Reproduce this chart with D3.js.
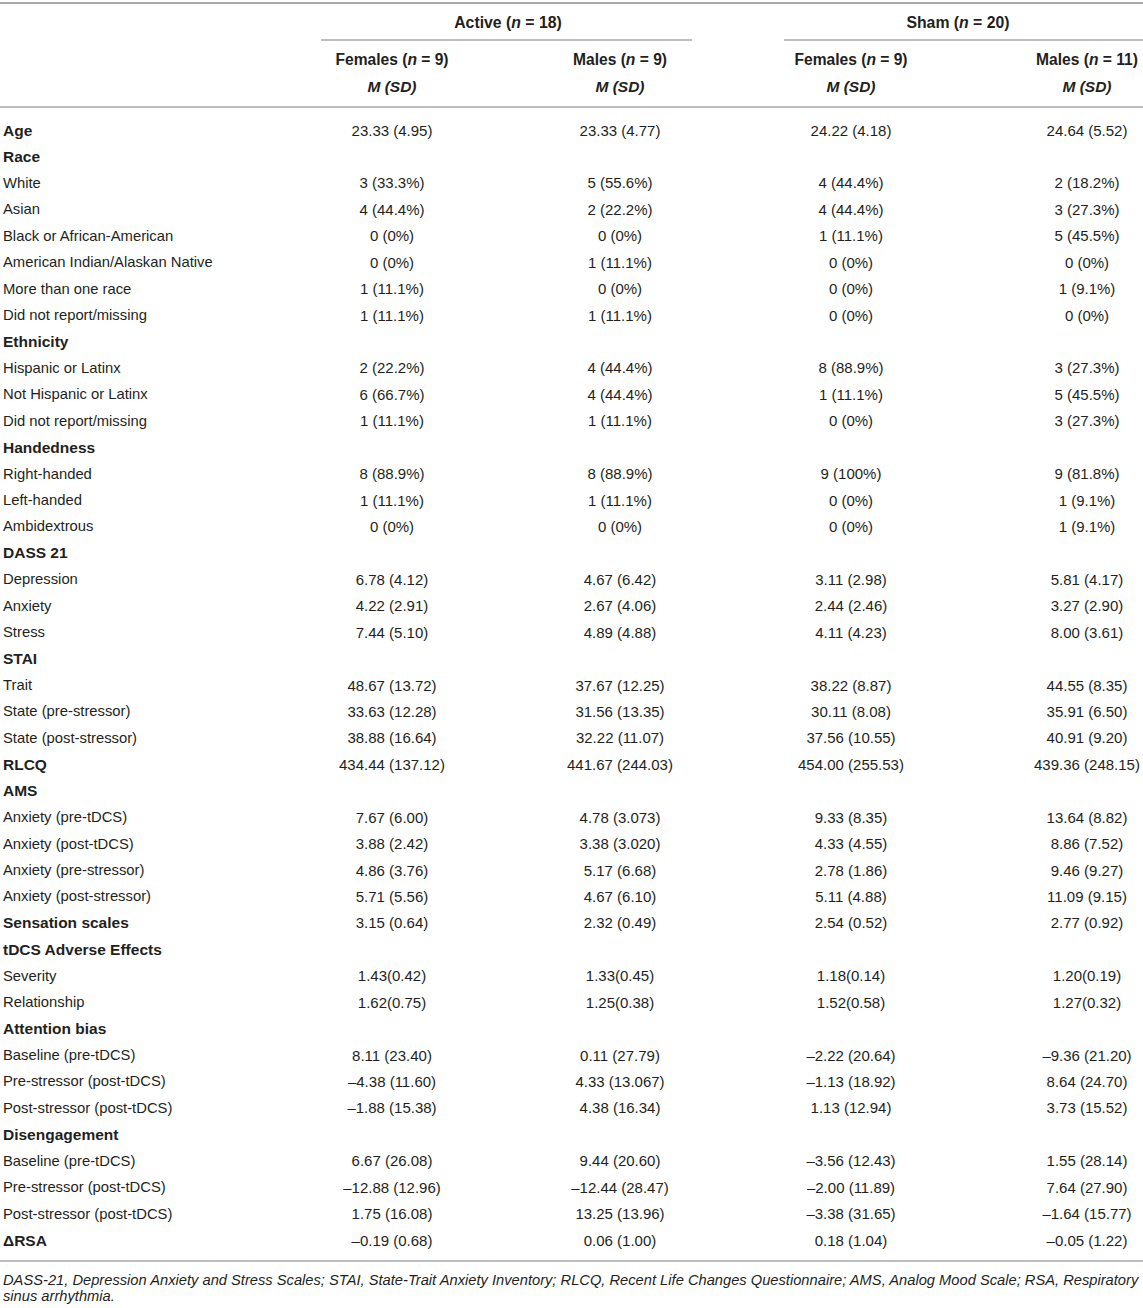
<!DOCTYPE html>
<html>
<head>
<meta charset="utf-8">
<script src="https://cdn.jsdelivr.net/npm/d3@7"></script>
<style>
  html, body { margin: 0; padding: 0; background: #fff; }
  svg { display: block; }
  text { font-family: "Liberation Sans", Arial, Helvetica, sans-serif; fill: #231f20; }
</style>
</head>
<body>
<div id="chart"></div>
<script>
// ---------- DATA ----------
const groupHeaders = ["Active (n = 18)", "Sham (n = 20)"];
const columnHeaders = ["Females (n = 9)", "Males (n = 9)", "Females (n = 9)", "Males (n = 11)"];
const statHeader = "M (SD)";

const rowLabels = [
  "Age", "Race", "White", "Asian", "Black or African-American", "American Indian/Alaskan Native",
  "More than one race", "Did not report/missing", "Ethnicity", "Hispanic or Latinx",
  "Not Hispanic or Latinx", "Did not report/missing", "Handedness", "Right-handed", "Left-handed",
  "Ambidextrous", "DASS 21", "Depression", "Anxiety", "Stress", "STAI", "Trait",
  "State (pre-stressor)", "State (post-stressor)", "RLCQ", "AMS", "Anxiety (pre-tDCS)",
  "Anxiety (post-tDCS)", "Anxiety (pre-stressor)", "Anxiety (post-stressor)", "Sensation scales",
  "tDCS Adverse Effects", "Severity", "Relationship", "Attention bias", "Baseline (pre-tDCS)",
  "Pre-stressor (post-tDCS)", "Post-stressor (post-tDCS)", "Disengagement", "Baseline (pre-tDCS)",
  "Pre-stressor (post-tDCS)", "Post-stressor (post-tDCS)", "\u0394RSA"
];
const boldRows = ["Age", "Race", "Ethnicity", "Handedness", "DASS 21", "STAI", "RLCQ", "AMS",
  "Sensation scales", "tDCS Adverse Effects", "Attention bias", "Disengagement", "\u0394RSA"];

const activeFemales = [
  "23.33 (4.95)", "", "3 (33.3%)", "4 (44.4%)", "0 (0%)", "0 (0%)", "1 (11.1%)", "1 (11.1%)",
  "", "2 (22.2%)", "6 (66.7%)", "1 (11.1%)", "", "8 (88.9%)", "1 (11.1%)", "0 (0%)",
  "", "6.78 (4.12)", "4.22 (2.91)", "7.44 (5.10)", "", "48.67 (13.72)", "33.63 (12.28)", "38.88 (16.64)",
  "434.44 (137.12)", "", "7.67 (6.00)", "3.88 (2.42)", "4.86 (3.76)", "5.71 (5.56)", "3.15 (0.64)",
  "", "1.43(0.42)", "1.62(0.75)", "", "8.11 (23.40)", "\u20134.38 (11.60)", "\u20131.88 (15.38)",
  "", "6.67 (26.08)", "\u201312.88 (12.96)", "1.75 (16.08)", "\u20130.19 (0.68)"
];
const activeMales = [
  "23.33 (4.77)", "", "5 (55.6%)", "2 (22.2%)", "0 (0%)", "1 (11.1%)", "0 (0%)", "1 (11.1%)",
  "", "4 (44.4%)", "4 (44.4%)", "1 (11.1%)", "", "8 (88.9%)", "1 (11.1%)", "0 (0%)",
  "", "4.67 (6.42)", "2.67 (4.06)", "4.89 (4.88)", "", "37.67 (12.25)", "31.56 (13.35)", "32.22 (11.07)",
  "441.67 (244.03)", "", "4.78 (3.073)", "3.38 (3.020)", "5.17 (6.68)", "4.67 (6.10)", "2.32 (0.49)",
  "", "1.33(0.45)", "1.25(0.38)", "", "0.11 (27.79)", "4.33 (13.067)", "4.38 (16.34)",
  "", "9.44 (20.60)", "\u201312.44 (28.47)", "13.25 (13.96)", "0.06 (1.00)"
];
const shamFemales = [
  "24.22 (4.18)", "", "4 (44.4%)", "4 (44.4%)", "1 (11.1%)", "0 (0%)", "0 (0%)", "0 (0%)",
  "", "8 (88.9%)", "1 (11.1%)", "0 (0%)", "", "9 (100%)", "0 (0%)", "0 (0%)",
  "", "3.11 (2.98)", "2.44 (2.46)", "4.11 (4.23)", "", "38.22 (8.87)", "30.11 (8.08)", "37.56 (10.55)",
  "454.00 (255.53)", "", "9.33 (8.35)", "4.33 (4.55)", "2.78 (1.86)", "5.11 (4.88)", "2.54 (0.52)",
  "", "1.18(0.14)", "1.52(0.58)", "", "\u20132.22 (20.64)", "\u20131.13 (18.92)", "1.13 (12.94)",
  "", "\u20133.56 (12.43)", "\u20132.00 (11.89)", "\u20133.38 (31.65)", "0.18 (1.04)"
];
const shamMales = [
  "24.64 (5.52)", "", "2 (18.2%)", "3 (27.3%)", "5 (45.5%)", "0 (0%)", "1 (9.1%)", "0 (0%)",
  "", "3 (27.3%)", "5 (45.5%)", "3 (27.3%)", "", "9 (81.8%)", "1 (9.1%)", "1 (9.1%)",
  "", "5.81 (4.17)", "3.27 (2.90)", "8.00 (3.61)", "", "44.55 (8.35)", "35.91 (6.50)", "40.91 (9.20)",
  "439.36 (248.15)", "", "13.64 (8.82)", "8.86 (7.52)", "9.46 (9.27)", "11.09 (9.15)", "2.77 (0.92)",
  "", "1.20(0.19)", "1.27(0.32)", "", "\u20139.36 (21.20)", "8.64 (24.70)", "3.73 (15.52)",
  "", "1.55 (28.14)", "7.64 (27.90)", "\u20131.64 (15.77)", "\u20130.05 (1.22)"
];
const footnoteLines = [
  "DASS-21, Depression Anxiety and Stress Scales; STAI, State-Trait Anxiety Inventory; RLCQ, Recent Life Changes Questionnaire; AMS, Analog Mood Scale; RSA, Respiratory",
  "sinus arrhythmia."
];

// ---------- LAYOUT ----------
const W = 1143, H = 1308;
const columns = [activeFemales, activeMales, shamFemales, shamMales];
const colKeys = d3.range(columns.length);

const svg = d3.select("#chart").append("svg").attr("width", W).attr("height", H);

const x = d3.scaleOrdinal().domain(colKeys).range([392, 620, 851, 1087]);
const y = d3.scalePoint().domain(d3.range(rowLabels.length)).range([130, 1240]);
const groupX = d3.scaleOrdinal().domain([0, 1]).range([508, 958]);
const groupSpan = [[321, 692], [784, 1143]];

const ruleColor = "#a7a9ac";

function rule(y0, x0, x1, w) {
  svg.append("line").attr("x1", x0).attr("x2", x1).attr("y1", y0).attr("y2", y0)
    .attr("stroke", ruleColor).attr("stroke-width", w || 1.5);
}
rule(3, 0, W, 2);
rule(107, 0, W, 1.5);
rule(1261, 0, W, 1.5);
groupSpan.forEach(s => rule(40, s[0], s[1], 1.5));

// header text with italic n
function nText(sel, str) {
  const m = str.match(/^(.*\()n( = .*)$/);
  sel.append("tspan").text(m[1]);
  sel.append("tspan").attr("font-style", "italic").text("n");
  sel.append("tspan").text(m[2]);
}

svg.selectAll("text.group").data(groupHeaders).join("text")
  .attr("class", "group")
  .attr("x", (d, i) => groupX(i)).attr("y", 22)
  .attr("text-anchor", "middle").attr("dominant-baseline", "central")
  .attr("font-size", "15.8px").attr("font-weight", "bold")
  .each(function(d) { nText(d3.select(this), d); });

svg.selectAll("text.colhead").data(columnHeaders).join("text")
  .attr("class", "colhead")
  .attr("x", (d, i) => x(i)).attr("y", 59)
  .attr("text-anchor", "middle").attr("dominant-baseline", "central")
  .attr("font-size", "15.6px").attr("font-weight", "bold")
  .each(function(d) { nText(d3.select(this), d); });

svg.selectAll("text.stat").data(colKeys).join("text")
  .attr("class", "stat")
  .attr("x", d => x(d)).attr("y", 86.5)
  .attr("text-anchor", "middle").attr("dominant-baseline", "central")
  .attr("font-size", "15.5px").attr("font-weight", "bold").attr("font-style", "italic")
  .text(statHeader);

// row labels
svg.selectAll("text.label").data(rowLabels).join("text")
  .attr("class", "label")
  .attr("x", 3).attr("y", (d, i) => y(i))
  .attr("dominant-baseline", "central")
  .attr("font-size", d => boldRows.includes(d) ? "15.5px" : "14.8px")
  .attr("font-weight", d => boldRows.includes(d) ? "bold" : "normal")
  .text(d => d);

// cells
columns.forEach((col, ci) => {
  svg.append("g").selectAll("text").data(col).join("text")
    .attr("x", x(ci)).attr("y", (d, i) => y(i))
    .attr("text-anchor", "middle").attr("dominant-baseline", "central")
    .attr("font-size", "15px")
    .text(d => d);
});

// footnote
svg.selectAll("text.foot").data(footnoteLines).join("text")
  .attr("class", "foot")
  .attr("x", 3).attr("y", (d, i) => 1285 + i * 16)
  .attr("font-size", "14.7px").attr("font-style", "italic")
  .text(d => d);
</script>
</body>
</html>
